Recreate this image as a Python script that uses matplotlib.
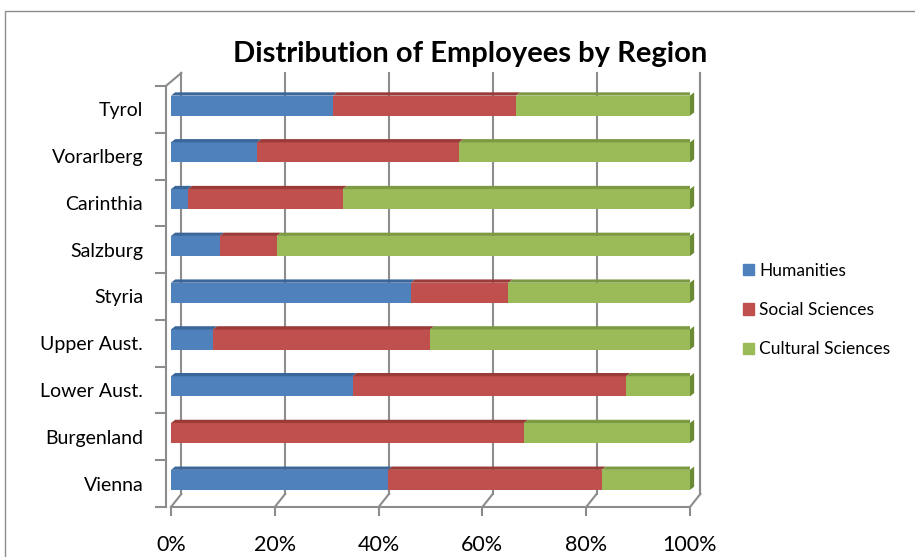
import numpy as np
import matplotlib.pyplot as plt
from matplotlib.patches import Polygon, Rectangle, Patch

# data (shares of employees)
regions = ['Vienna', 'Burgenland', 'Lower Aust.', 'Upper Aust.', 'Styria',
           'Salzburg', 'Carinthia', 'Vorarlberg', 'Tyrol']
humanities = [0.418, 0.0, 0.350, 0.081, 0.462, 0.094, 0.033, 0.166, 0.312]
social = [0.412, 0.680, 0.527, 0.418, 0.188, 0.110, 0.298, 0.389, 0.353]
cultural = [0.170, 0.320, 0.123, 0.501, 0.350, 0.796, 0.669, 0.445, 0.335]
series_names = ['Humanities', 'Social Sciences', 'Cultural Sciences']
ticks = [0, 0.2, 0.4, 0.6, 0.8, 1.0]
tick_labels = ['0%', '20%', '40%', '60%', '80%', '100%']

face = ['#4f81bd', '#c0504d', '#9bbb59']
top = ['#3a6699', '#9b3b38', '#7c9a42']
side = '#6b8a35'
grid_c = '#8c8c8c'

plt.rcParams['font.family'] = ['Lato', 'DejaVu Sans']

fig = plt.figure(figsize=(9.15, 5.57), dpi=100)
ax = fig.add_axes([171/915, 50/557, 519/915, 421/557])
ax.set_xlim(0, 1)
ax.set_ylim(-0.5, 8.5)
for s in ax.spines.values():
    s.set_visible(False)

# pseudo 3D offsets
dx, dy = 0.02, 0.28       # back wall
bdx, bdy = 0.008, 0.07    # bar top face
h = 0.43
yoff = 0.08

# back wall grid
for t in ticks:
    ax.plot([t + dx, t + dx], [-0.5 + dy, 8.5 + dy], color=grid_c, lw=1.5,
            clip_on=False, zorder=1)
    ax.plot([t, t + dx], [-0.5, -0.5 + dy], color=grid_c, lw=1.5,
            clip_on=False, zorder=1)
    ax.plot([t, t], [-0.5, -0.68], color=grid_c, lw=1.5, clip_on=False)
ax.plot([0, 1], [-0.5, -0.5], color=grid_c, lw=1.5, clip_on=False)
ax.plot([1 + dx, 1 + dx], [-0.5 + dy, 8.5 + dy], color=grid_c, lw=1.5,
        clip_on=False)
# left wall
ax.plot([-0.01, -0.01], [-0.5, 8.5], color=grid_c, lw=1.5, clip_on=False)
ax.plot([-0.01, dx], [8.5, 8.5 + dy], color=grid_c, lw=1.5, clip_on=False)
for b in np.arange(-0.5, 9, 1):
    ax.plot([-0.028, -0.01], [b, b], color=grid_c, lw=1.5, clip_on=False)

# stacked bars
data = [humanities, social, cultural]
for i in range(len(regions)):
    y = i + yoff
    left = 0
    for k in range(3):
        w = data[k][i]
        if w > 0:
            ax.add_patch(Rectangle((left, y - h/2), w, h, color=face[k],
                                   zorder=3, lw=0))
            ax.add_patch(Polygon([(left, y + h/2), (left + bdx, y + h/2 + bdy),
                                  (left + w + bdx, y + h/2 + bdy),
                                  (left + w, y + h/2)],
                                 color=top[k], zorder=3, lw=0))
        left += w
    ax.add_patch(Polygon([(left, y - h/2), (left + bdx, y - h/2 + bdy),
                          (left + bdx, y + h/2 + bdy), (left, y + h/2)],
                         color=side, zorder=3, lw=0, clip_on=False))

ax.set_yticks(range(len(regions)))
ax.set_yticklabels(regions, fontsize=14)
ax.tick_params(axis='y', length=0, pad=20)
ax.set_xticks(ticks)
ax.set_xticklabels(tick_labels, fontsize=15.5)
ax.tick_params(axis='x', length=0, pad=20)

fig.text(470/915, 1 - 54/557, 'Distribution of Employees by Region',
         ha='center', va='center', fontsize=21, fontweight='bold')

handles = [Patch(color=c) for c in face]
fig.legend(handles, series_names, loc='center left',
           bbox_to_anchor=(727/915, 1 - 310/557), frameon=False, fontsize=12.5,
           handlelength=0.65, handleheight=0.65, handletextpad=0.3,
           labelspacing=1.35)

fig.add_artist(Rectangle((5/915, -0.1), 1.2, 1 - 11/557 + 0.1,
                         transform=fig.transFigure, fill=False,
                         edgecolor=grid_c, lw=1))

fig.savefig('out.png')
